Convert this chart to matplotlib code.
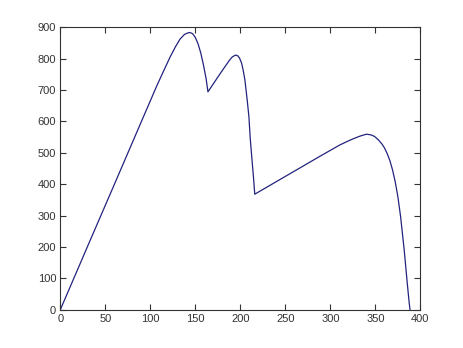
import matplotlib
matplotlib.use("Agg")
import matplotlib.pyplot as plt

# curve
x = [0, 30, 60, 90, 107, 115, 122, 128, 133, 138, 142, 144, 147, 150, 153,
     156, 159, 162, 164, 179, 188, 191, 194.5, 197, 199, 201.3, 203, 205,
     207.6, 209.5, 211, 213, 214.5, 216, 240, 267, 288, 310, 318, 325, 333,
     340, 345, 349, 353, 357, 360, 363, 366, 369, 372, 375, 378, 382, 385.4,
     387.6, 388.5]
y = [0, 200, 399, 599, 712, 762, 805, 838, 862, 877, 882, 883, 879, 867, 847,
     818, 780, 735, 694, 758, 795, 805, 811, 809, 802, 786, 765, 733,
     668, 615, 545, 475, 425, 368, 408, 453, 488, 524, 535, 544, 553,
     559, 557, 552, 542, 529, 516, 498, 476, 446, 408, 360, 297, 191, 85,
     21, 0]

plt.rcParams['font.family'] = ['Liberation Sans', 'DejaVu Sans']

fig = plt.figure(figsize=(4.64, 3.48), dpi=100)
ax = fig.add_axes([0.13, 0.11, 0.776, 0.812])
ax.plot(x, y, color='#23237f', linewidth=0.9)

ax.set_xlim(0, 400)
ax.set_ylim(0, 900)
ax.set_xticks(range(0, 401, 50))
ax.set_yticks(range(0, 901, 100))
ax.tick_params(direction='in', length=4, width=0.8, top=True, right=True,
               labelsize=8, colors='#333333', pad=3)
for s in ax.spines.values():
    s.set_color('#333333')
    s.set_linewidth(0.8)

fig.savefig('out.png', dpi=100)
